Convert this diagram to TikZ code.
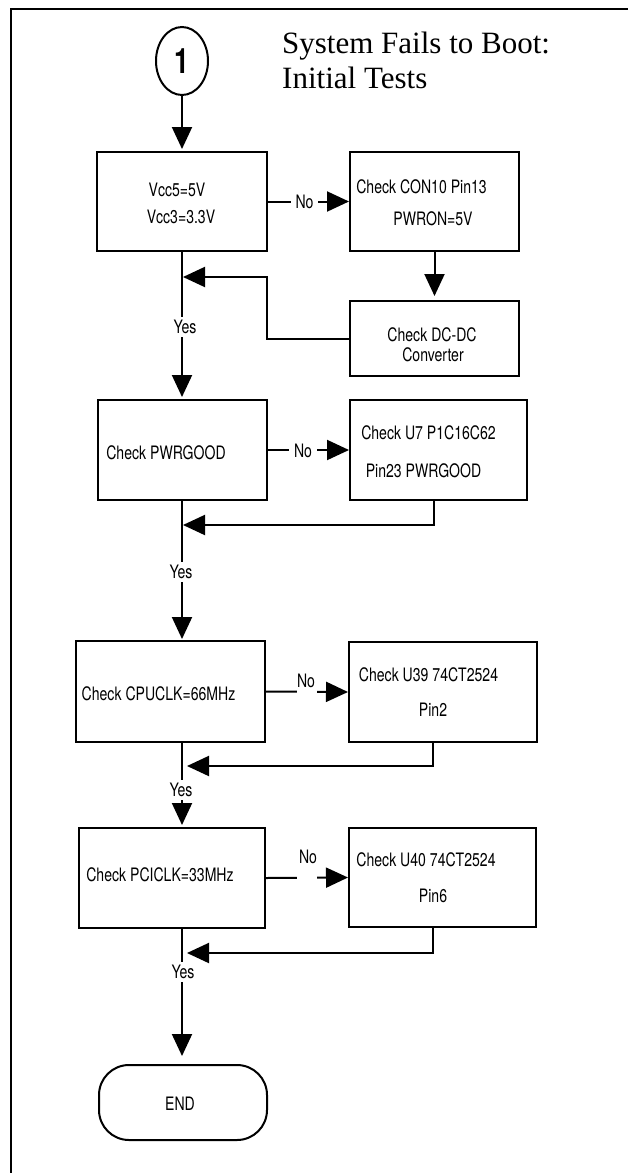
\documentclass[tikz,border=0pt]{standalone}
\usepackage{fontspec}
\setmainfont{Liberation Serif}
\newfontfamily\hv[FakeStretch=0.76]{TeX Gyre Heros}
\usetikzlibrary{arrows.meta,shapes.geometric}
\begin{document}
\begin{tikzpicture}[x=1pt,y=-1pt,
  bx/.style={draw, line width=2pt, inner sep=0pt},
  txt/.style={font=\hv\fontsize{18.5}{21}\selectfont, inner sep=0pt},
  lbl/.style={font=\hv\fontsize{18.5}{21}\selectfont, fill=white, inner xsep=5pt, inner ysep=1pt},
  arr/.style={line width=2pt, -{Triangle[length=22pt,width=20pt]}},
  gapnode/.style={fill=white, inner sep=0pt, minimum width=#1, minimum height=5pt},
  frame/.style={line width=2.5pt}]
\useasboundingbox (0,0) rectangle (628,1173);
% frame
\coordinate (f1) at (628,9);
\coordinate (f2) at (11,9);
\coordinate (f3) at (11,1173);
\draw[frame] (f1) -- (f2) -- (f3);
% title
\node[anchor=base west, inner sep=0pt, font=\fontsize{31}{35}\selectfont] (t1) at (282,53) {System Fails to Boot:};
\node[anchor=base west, inner sep=0pt, font=\fontsize{31}{35}\selectfont] (t2) at (282,88) {Initial Tests};
% start connector
\node[draw, ellipse, line width=2pt, minimum width=52pt, minimum height=68pt, inner sep=0pt,
      font=\hv\bfseries\fontsize{35}{40}\selectfont] (S) at (182,61) {1};
% boxes
\node[bx, minimum width=170pt, minimum height=99pt] (A) at (182,201.5) {};
\node[bx, minimum width=169pt, minimum height=99pt] (B) at (434.5,201.5) {};
\node[bx, minimum width=169pt, minimum height=75pt] (C) at (434.5,338.5) {};
\node[bx, minimum width=169pt, minimum height=100pt] (D) at (182.5,450) {};
\node[bx, minimum width=177pt, minimum height=100pt] (E) at (438.5,450) {};
\node[bx, minimum width=189pt, minimum height=101pt] (F) at (170.5,691.5) {};
\node[bx, minimum width=188pt, minimum height=100pt] (G) at (443,692) {};
\node[bx, minimum width=186pt, minimum height=100pt] (H) at (172,878) {};
\node[bx, minimum width=187pt, minimum height=99pt] (I) at (442.5,877.5) {};
\node[bx, rounded corners=30pt, minimum width=168pt, minimum height=75pt] (END) at (183,1102.5) {};
% box texts
\node[txt] (a1) at (177,190) {Vcc5=5V};
\node[txt] (a2) at (181,217) {Vcc3=3.3V};
\node[txt] (b1) at (421.5,187) {Check CON10 Pin13};
\node[txt] (b2) at (433,218.5) {PWRON=5V};
\node[txt] (c1) at (432,334.5) {Check DC-DC};
\node[txt] (c2) at (433,355) {Converter};
\node[txt] (d1) at (166,453) {Check PWRGOOD};
\node[txt] (e1t) at (428.5,432.5) {Check U7 P1C16C62};
\node[txt] (e2t) at (423.5,470.5) {Pin23 PWRGOOD};
\node[txt] (f1t) at (158.5,693.5) {Check CPUCLK=66MHz};
\node[txt] (g1t) at (428.5,674.5) {Check U39 74CT2524};
\node[txt] (g2t) at (433,710) {Pin2};
\node[txt] (h1t) at (160,875) {Check PCICLK=33MHz};
\node[txt] (i1t) at (426,859.5) {Check U40 74CT2524};
\node[txt] (i2t) at (433,895.5) {Pin6};
\node[txt] (endt) at (180,1103.5) {END};
% main line
\coordinate (m) at (182,0);
\draw[arr, shorten >=2pt] (S) -- (A);
\draw[arr, shorten >=2pt] (A.south -| m) -- (D.north -| m);
\draw[arr, shorten >=1pt] (D.south -| m) -- (F.north -| m);
\draw[arr, shorten >=2pt] (F.south -| m) -- (H.north -| m);
\draw[arr, shorten >=8pt] (H.south -| m) -- (END.north -| m);
% no branches
\draw[arr] (A.east) -- (B.west);
\draw[arr] (D.east) -- (E.west);
\draw[arr] (F.east) -- (G.west);
\draw[arr] (H.east) -- (I.west);
\draw[arr, shorten >=4pt] (B) -- (C);
% return lines
\coordinate (k1) at (267,338.5);
\coordinate (k2) at (267,277);
\coordinate (k3) at (183,277);
\draw[arr] (C.west) -- (k1) -- (k2) -- (k3);
\coordinate (e1) at (434,525);
\coordinate (e2) at (183,525);
\draw[arr] (E.south -| e1) -- (e1) -- (e2);
\coordinate (g1) at (433,766);
\coordinate (g2) at (187,766);
\draw[arr] (G.south -| g1) -- (g1) -- (g2);
\coordinate (i1) at (433,953);
\coordinate (i2) at (187,953);
\draw[arr] (I.south -| i1) -- (i1) -- (i2);
% labels
\node[lbl] (n1) at (304.5,202) {No};
\node[lbl] (n2) at (303,451) {No};
\node[gapnode=20pt] (n3g) at (307,691.5) {};
\node[txt] (n3) at (306,681) {No};
\node[gapnode=20pt] (n4g) at (307,878) {};
\node[txt] (n4) at (308,856.5) {No};
\node[lbl, inner xsep=1pt, inner ysep=3pt] (y1) at (185,327) {Yes};
\node[lbl, inner xsep=1pt, inner ysep=3pt] (y2) at (181,572) {Yes};
\node[lbl, inner xsep=1pt, inner ysep=3pt] (y3) at (181,790) {Yes};
\node[lbl, inner xsep=1pt, inner ysep=3pt] (y4) at (183,972) {Yes};
\end{tikzpicture}
\end{document}
